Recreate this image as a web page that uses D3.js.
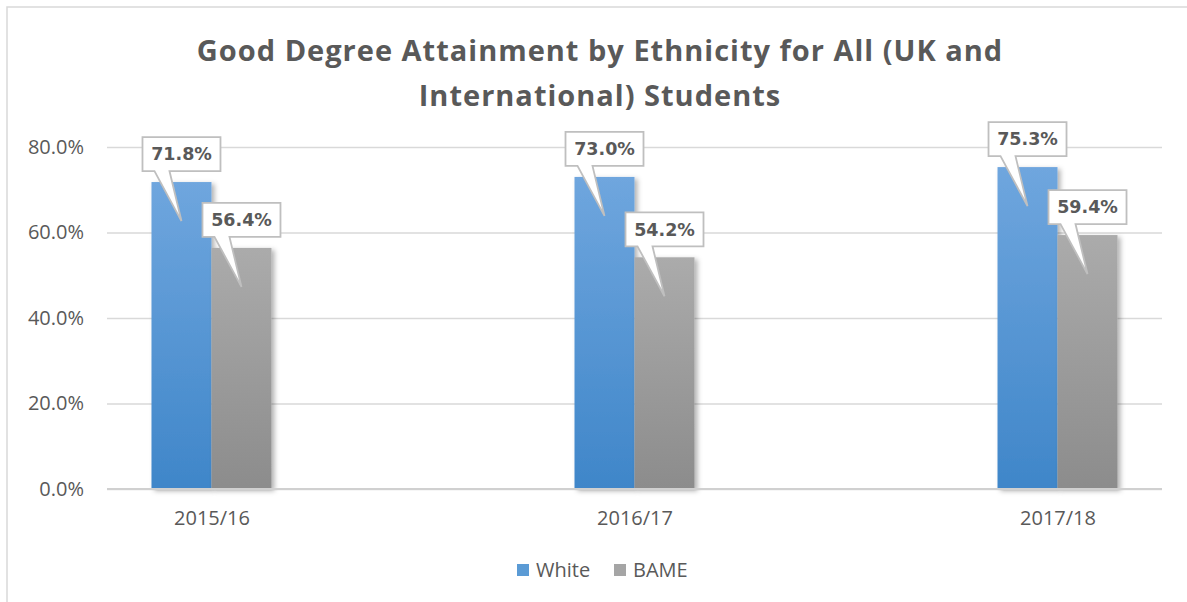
<!DOCTYPE html>
<html>
<head>
<meta charset="utf-8">
<script src="https://cdn.jsdelivr.net/npm/d3@7"></script>
<style>
  html, body { margin: 0; padding: 0; background: #ffffff; }
  svg { display: block; }
</style>
</head>
<body>
<svg id="chart" width="1187" height="602"></svg>
<script>
// Chart data
const categories = ["2015/16", "2016/17", "2017/18"];
const seriesNames = ["White", "BAME"];
const whiteValues = [71.8, 73.0, 75.3];
const bameValues = [56.4, 54.2, 59.4];
const yTicks = [0, 20, 40, 60, 80];
const titleLines = ["Good Degree Attainment by Ethnicity for All (UK and", "International) Students"];

const seriesValues = { White: whiteValues, BAME: bameValues };
const rows = [];
categories.forEach((c, i) => {
  seriesNames.forEach(s => rows.push({ category: c, series: s, value: seriesValues[s][i] }));
});

const W = 1187, H = 602;
const plot = { left: 107, right: 1162, top: 147, bottom: 489 };
const textColor = "#595959";
const gridColor = "#d9d9d9";
const bodyFont = "'Open Sans', 'Noto Sans', sans-serif";

const svg = d3.select("#chart");

// Gradients and shadow
const defs = svg.append("defs");
const gradStops = {
  White: ["#6fa6de", "#3f86c9"],
  BAME: ["#ababab", "#8c8c8c"]
};
seriesNames.forEach(s => {
  const g = defs.append("linearGradient")
    .attr("id", "grad-" + s).attr("x1", 0).attr("y1", 0).attr("x2", 0).attr("y2", 1);
  g.append("stop").attr("offset", "0%").attr("stop-color", gradStops[s][0]);
  g.append("stop").attr("offset", "100%").attr("stop-color", gradStops[s][1]);
});
const shadow = defs.append("filter").attr("id", "barShadow")
  .attr("x", "-20%").attr("y", "-10%").attr("width", "150%").attr("height", "130%");
shadow.append("feDropShadow").attr("dx", 3).attr("dy", 2)
  .attr("stdDeviation", 2.5).attr("flood-color", "#000").attr("flood-opacity", 0.3);

// Chart area frame
svg.append("rect")
  .attr("x", 7).attr("y", 7).attr("width", W + 20).attr("height", H + 20)
  .attr("fill", "#fff").attr("stroke", gridColor).attr("stroke-width", 1.5);

// Scales
const x = d3.scalePoint().domain(categories).range([plot.left, plot.right]).padding(0.247);
const barWidth = 60;
const xInner = d3.scaleBand().domain(seriesNames).range([-barWidth, barWidth]).padding(0);
const y = d3.scaleLinear().domain([0, 80]).range([plot.bottom, plot.top]);

// Gridlines + value axis labels
const yAxis = d3.axisLeft(y)
  .tickValues(yTicks)
  .tickSize(-(plot.right - plot.left))
  .tickPadding(23)
  .tickFormat(d => d3.format(".1f")(d) + "%");
const yg = svg.append("g").attr("transform", `translate(${plot.left},0)`).call(yAxis);
yg.select(".domain").remove();
yg.selectAll(".tick line").attr("stroke", gridColor).attr("stroke-width", 1.5);
yg.selectAll(".tick text")
  .attr("fill", textColor).style("font-family", bodyFont).style("font-size", "20px");

// Category axis
const xAxis = d3.axisBottom(x).tickSize(0).tickPadding(22);
const xg = svg.append("g").attr("transform", `translate(0,${plot.bottom})`).call(xAxis);
xg.select(".domain").remove();
xg.selectAll(".tick text")
  .attr("fill", textColor).style("font-family", bodyFont).style("font-size", "20px");

// Bars
svg.append("g").selectAll("rect").data(rows).join("rect")
  .attr("x", d => x(d.category) + xInner(d.series))
  .attr("width", xInner.bandwidth())
  .attr("y", d => y(d.value))
  .attr("height", d => y(0) - y(d.value))
  .attr("fill", d => `url(#grad-${d.series})`)
  .attr("filter", "url(#barShadow)");

// Baseline over the bar shadows
svg.append("line")
  .attr("x1", plot.left).attr("x2", plot.right)
  .attr("y1", y(0)).attr("y2", y(0))
  .attr("stroke", "#d0d0d0").attr("stroke-width", 2);

// Data callouts
const boxW = 78, boxH = 34, boxGap = 11, tipDepth = 39;
function calloutPath(d) {
  const cx = x(d.category) + xInner(d.series) + xInner.bandwidth() / 2;
  const yt = y(d.value);
  const x0 = cx - boxW / 2, x1 = cx + boxW / 2;
  const y1 = yt - boxGap, y0 = y1 - boxH;
  return `M${x0},${y0}H${x1}V${y1}H${cx - 12}L${cx},${yt + tipDepth}L${cx - 27},${y1}H${x0}Z`;
}
const callouts = svg.append("g").selectAll("g").data(rows).join("g");
callouts.append("path")
  .attr("d", calloutPath)
  .attr("fill", "#fff").attr("stroke", "#bfbfbf").attr("stroke-width", 1.8)
  .attr("stroke-linejoin", "miter");
callouts.append("text")
  .attr("x", d => x(d.category) + xInner(d.series) + xInner.bandwidth() / 2)
  .attr("y", d => y(d.value) - boxGap - boxH / 2)
  .attr("dy", "0.36em")
  .attr("text-anchor", "middle")
  .attr("fill", textColor)
  .style("font-family", "'DejaVu Sans', Verdana, sans-serif")
  .style("font-weight", "bold")
  .style("font-size", "17.5px")
  .text(d => d3.format(".1f")(d.value) + "%");

// Title
svg.append("text")
  .attr("text-anchor", "middle")
  .attr("fill", textColor)
  .style("font-family", bodyFont)
  .style("font-weight", "bold")
  .style("font-size", "29px")
  .style("letter-spacing", "1px")
  .selectAll("tspan").data(titleLines).join("tspan")
  .attr("x", 600)
  .attr("y", (d, i) => 61 + i * 45)
  .text(d => d);

// Legend
const legendColors = { White: "#5b9bd5", BAME: "#a5a5a5" };
const legendX = { White: 517, BAME: 614 };
const lg = svg.append("g").selectAll("g").data(seriesNames).join("g")
  .attr("transform", d => `translate(${legendX[d]},564)`);
lg.append("rect").attr("width", 12).attr("height", 12).attr("fill", d => legendColors[d]);
lg.append("text")
  .attr("x", 19).attr("y", 13)
  .attr("fill", textColor)
  .style("font-family", bodyFont)
  .style("font-size", "20px")
  .text(d => d);
</script>
</body>
</html>
